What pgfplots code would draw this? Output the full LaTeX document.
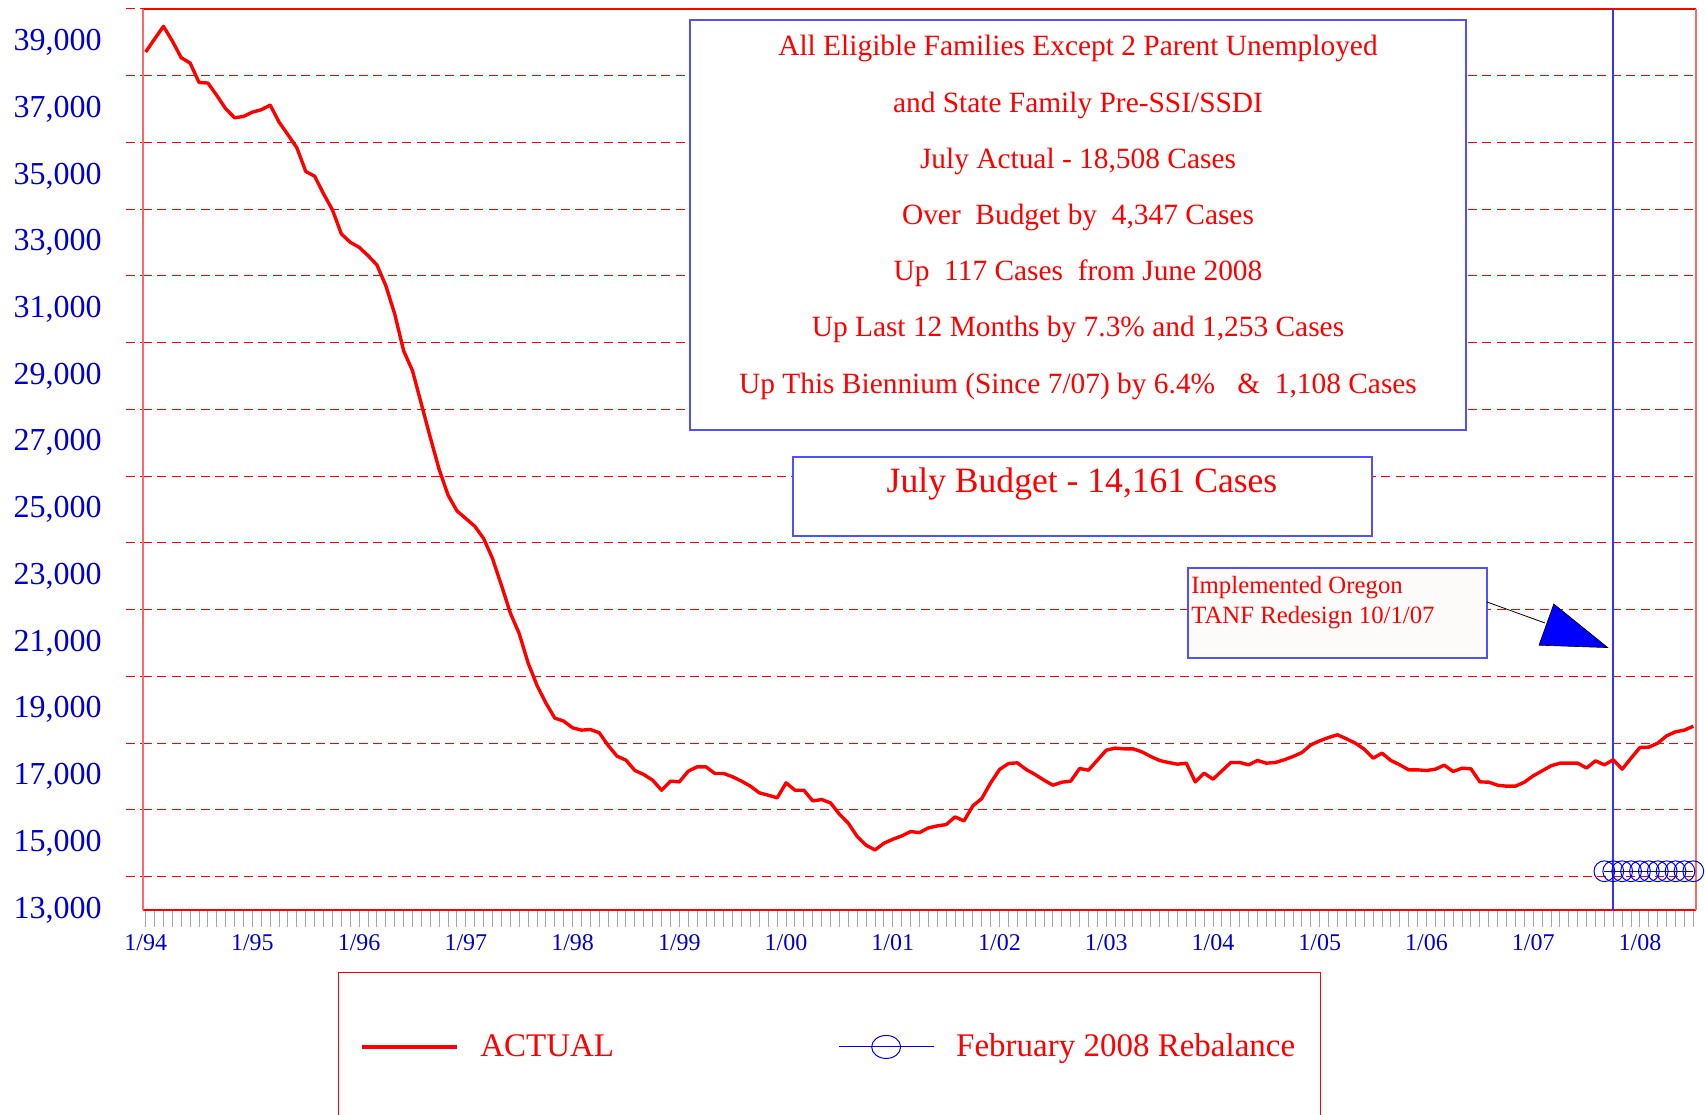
\documentclass[border=0pt]{standalone}
\usepackage{fontspec}
\setmainfont{Liberation Serif}
\usepackage{pgfplots}
\usepackage{pgfplotstable}
\pgfplotsset{compat=1.18}
\definecolor{tickblue}{RGB}{0,0,204}
\definecolor{boxblue}{RGB}{80,80,255}
\definecolor{annofill}{RGB}{253,251,249}

\pgfplotstableread{
m v
0 38710
1 39100
2 39480
3 39040
4 38540
5 38380
6 37800
7 37780
8 37410
9 37010
10 36740
11 36780
12 36910
13 36980
14 37120
15 36610
16 36230
17 35840
18 35130
19 34990
20 34460
21 33980
22 33260
23 33010
24 32860
25 32610
26 32330
27 31710
28 30860
29 29760
30 29160
31 28160
32 27160
33 26200
34 25430
35 24960
36 24730
37 24500
38 24130
39 23530
40 22730
41 21900
42 21280
43 20400
44 19730
45 19200
46 18750
47 18660
48 18460
49 18390
50 18410
51 18310
52 17930
53 17610
54 17490
55 17180
56 17060
57 16890
58 16590
59 16860
60 16840
61 17160
62 17290
63 17290
64 17090
65 17090
66 16990
67 16860
68 16710
69 16510
70 16440
71 16360
72 16810
73 16590
74 16590
75 16270
76 16310
77 16210
78 15870
79 15600
80 15200
81 14940
82 14800
83 15000
84 15120
85 15220
86 15350
87 15320
88 15460
89 15520
90 15560
91 15790
92 15670
93 16120
94 16340
95 16810
96 17210
97 17390
98 17410
99 17210
100 17060
101 16890
102 16740
103 16830
104 16860
105 17240
106 17190
107 17490
108 17790
109 17850
110 17830
111 17830
112 17740
113 17600
114 17480
115 17420
116 17370
117 17400
118 16840
119 17100
120 16920
121 17170
122 17420
123 17420
124 17350
125 17480
126 17400
127 17420
128 17500
129 17600
130 17720
131 17950
132 18070
133 18170
134 18250
135 18130
136 18000
137 17820
138 17550
139 17700
140 17480
141 17350
142 17200
143 17200
144 17180
145 17220
146 17340
147 17150
148 17250
149 17230
150 16840
151 16830
152 16740
153 16710
154 16710
155 16830
156 17020
157 17170
158 17320
159 17400
160 17400
161 17400
162 17255
163 17470
164 17350
165 17500
166 17220
167 17550
168 17870
169 17880
170 18000
171 18220
172 18340
173 18391
174 18508
}\actual

\begin{document}
\begin{tikzpicture}
\path[use as bounding box] (-71.5pt,-102.5pt) rectangle (781pt,455pt);
\begin{axis}[
  at={(0pt,0pt)}, anchor=south west,
  scale only axis, width=776.5pt, height=450.5pt,
  xmin=-0.3, xmax=174.3, ymin=13000, ymax=40000,
  clip=false,
  separate axis lines,
  x axis line style={red, line width=0.6pt},
  y axis line style={red!60, line width=0.6pt},
  tick align=outside,
  xtick={0,12,...,168},
  xticklabels={1/94,1/95,1/96,1/97,1/98,1/99,1/00,1/01,1/02,1/03,1/04,1/05,1/06,1/07,1/08},
  minor xtick={0,1,...,174},
  xtick pos=bottom,
  x tick style={gray!70, line width=0.5pt},
  major tick length=8.5pt, minor tick length=8.5pt,
  xticklabel style={font=\fontsize{12}{12}\selectfont, text=tickblue, anchor=center, inner sep=0pt, yshift=-7.6pt},
  ytick={14000,16000,...,40000},
  yticklabels={},
  ytick pos=left,
  ymajorgrids,
  major grid style={red, dash pattern=on 4.5pt off 2.7pt, line width=0.5pt},
  y tick style={red, dash pattern=on 4.5pt off 2.7pt, line width=0.5pt},
  extra y ticks={13000,15000,...,39000},
  extra y tick style={grid=none, major tick length=0pt},
  scaled y ticks=false,
  /pgf/number format/.cd, 1000 sep={,}, fixed, assume math mode=true,
  /pgfplots/.cd,
  yticklabel style={font=\fontsize{16}{16}\selectfont, text=tickblue, anchor=east, inner sep=0pt, xshift=-20.5pt},
  legend columns=2,
  legend style={at={(0.1397,-0.1520)}, anchor=west, draw=none, fill=none,
    inner sep=0pt, outer sep=0pt,
    font=\fontsize{16.5}{16.5}\selectfont, text=red,
    nodes={inner sep=0pt},
    /tikz/every odd column/.append style={column sep=11pt},
    /tikz/every even column/.append style={column sep=112pt}},
]
\addplot[blue!80, line width=0.8pt, forget plot] coordinates {(165,13000) (165,40000)};
\addplot[red, line width=1.7pt, line join=round,
  legend image code/.code={\draw[red,line width=1.7pt] (0pt,0pt) -- (47.5pt,0pt);}]
  table[x=m,y=v] {\actual};
\addlegendentry{ACTUAL}
\addplot[blue, line width=0.5pt, mark=o, mark size=5.2pt, mark options={solid, line width=0.5pt},
  legend image code/.code={\draw[blue, line width=0.5pt] (0pt,0pt) -- (47.5pt,0pt);
    \draw[blue, line width=0.5pt] (23.75pt,0pt) ellipse [x radius=7.25pt, y radius=5.75pt];}]
  coordinates {(164,14161) (165,14161) (166,14161) (167,14161) (168,14161) (169,14161)
               (170,14161) (171,14161) (172,14161) (173,14161) (174,14161)};
\addlegendentry{February 2008 Rebalance}
\end{axis}

% legend frame
\draw[red, line width=0.5pt] (97.5pt,-31pt) rectangle (588.5pt,-120pt);

% top text box
\draw[boxblue, fill=white, line width=0.6pt] (273.5pt,240pt) rectangle (661.5pt,445pt);
\begin{scope}[every node/.style={text=red, font=\fontsize{14.7}{14.7}\selectfont, anchor=base, inner sep=0pt}]
\node at (467.5pt,427pt) {All Eligible Families Except 2 Parent Unemployed};
\node at (467.5pt,398.9pt) {and State Family Pre-SSI/SSDI};
\node at (467.5pt,370.8pt) {July Actual - 18,508 Cases};
\node at (467.5pt,342.7pt) {Over\ \ Budget by\ \ 4,347 Cases};
\node at (467.5pt,314.6pt) {Up\ \ 117 Cases\ \ from June 2008};
\node at (467.5pt,286.5pt) {Up Last 12 Months by 7.3\% and 1,253 Cases};
\node at (467.5pt,258.4pt) {Up This Biennium (Since 7/07) by 6.4\%\ \ \ \&\ \ 1,108 Cases};
\end{scope}

% budget box
\draw[boxblue, fill=white, line width=0.6pt] (325pt,187pt) rectangle (614.5pt,226.5pt);
\node[text=red, font=\fontsize{17.8}{17.8}\selectfont, anchor=base, inner sep=0pt] at (469.5pt,208.8pt) {July Budget - 14,161 Cases};

% annotation box
\draw[boxblue, fill=annofill, line width=0.6pt] (522.5pt,126pt) rectangle (672pt,171pt);
\node[text=red, font=\fontsize{12.4}{12.4}\selectfont, anchor=base west, inner sep=0pt] at (524pt,158.3pt) {Implemented Oregon};
\node[text=red, font=\fontsize{12.4}{12.4}\selectfont, anchor=base west, inner sep=0pt] at (524pt,143pt) {TANF Redesign 10/1/07};
\draw[black, line width=0.4pt] (672pt,154pt) -- (701pt,143.5pt);
\filldraw[fill=blue, draw=black, line width=0.3pt] (705.4pt,153pt) -- (698pt,132.4pt) -- (732.4pt,131.2pt) -- cycle;
\end{tikzpicture}
\end{document}
